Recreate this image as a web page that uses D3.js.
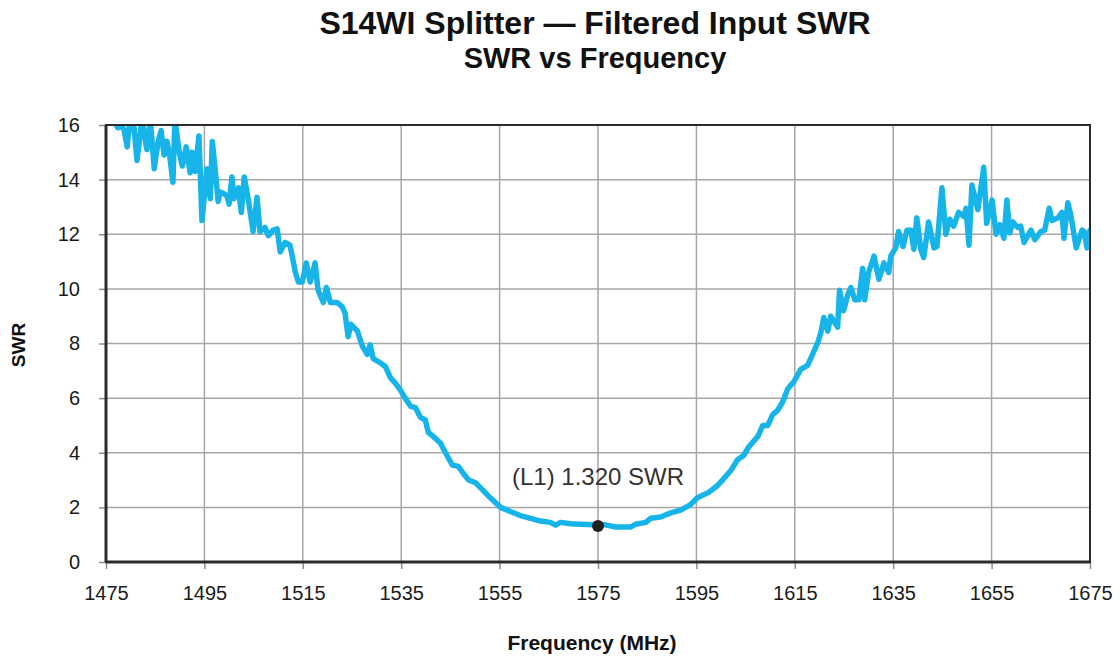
<!DOCTYPE html>
<html>
<head>
<meta charset="utf-8">
<script src="https://cdn.jsdelivr.net/npm/d3@7"></script>
<style>
  body { margin: 0; background: #fff; }
  svg { font-family: "Liberation Sans", Arial, sans-serif; }
</style>
</head>
<body>
<div id="wrapper"></div>
<script>
// frequency (MHz) readings and matching SWR values
const freqMHz = [
  1475.0, 1476.2, 1477.4, 1478.1, 1478.7, 1479.3, 1479.9, 1480.7, 1481.3, 1482.3,
  1483.3, 1484.0, 1484.8, 1485.6, 1486.2, 1486.8, 1487.4, 1488.0, 1488.6, 1489.0,
  1489.9, 1490.5, 1491.3, 1492.1, 1492.5, 1493.1, 1493.9, 1494.5, 1495.1, 1495.5,
  1496.2, 1496.6, 1497.2, 1497.8, 1498.2, 1498.8, 1499.6, 1500.0, 1500.6, 1501.0,
  1501.9, 1502.5, 1503.1, 1503.9, 1504.9, 1505.7, 1506.3, 1507.3, 1508.0, 1509.0,
  1509.8, 1510.4, 1511.4, 1512.4, 1513.5, 1514.1, 1514.9, 1515.7, 1516.5, 1517.5,
  1518.1, 1519.2, 1519.8, 1520.6, 1522.0, 1523.0, 1523.6, 1524.2, 1524.8, 1526.1,
  1527.1, 1528.1, 1528.7, 1529.3, 1530.7, 1531.8, 1532.8, 1533.8, 1534.8, 1535.8,
  1536.9, 1537.9, 1538.9, 1539.9, 1540.5, 1541.5, 1543.0, 1544.0, 1545.4, 1546.6,
  1547.6, 1548.7, 1550.1, 1551.5, 1553.1, 1555.2, 1557.2, 1559.2, 1561.3, 1563.3,
  1565.3, 1566.4, 1567.4, 1569.4, 1571.4, 1574.5, 1576.5, 1578.6, 1581.6, 1582.6,
  1584.7, 1585.7, 1587.7, 1589.8, 1591.8, 1593.8, 1595.2, 1597.5, 1599.3, 1600.3,
  1602.0, 1603.4, 1604.6, 1605.6, 1607.5, 1608.5, 1609.5, 1610.5, 1611.5, 1612.5,
  1613.6, 1614.8, 1616.2, 1617.6, 1618.6, 1619.7, 1620.3, 1620.9, 1621.7, 1622.3,
  1623.7, 1624.1, 1624.9, 1625.8, 1626.4, 1627.2, 1628.0, 1628.8, 1629.2, 1630.0,
  1631.1, 1632.1, 1633.1, 1634.1, 1634.5, 1635.5, 1636.1, 1637.0, 1637.8, 1638.6,
  1639.2, 1639.8, 1640.6, 1641.2, 1642.2, 1643.3, 1643.9, 1644.9, 1645.7, 1646.5,
  1647.3, 1648.3, 1649.4, 1649.8, 1650.4, 1651.0, 1652.2, 1653.4, 1654.0, 1655.1,
  1655.9, 1656.7, 1657.5, 1658.1, 1658.7, 1659.3, 1660.3, 1660.9, 1661.6, 1663.0,
  1663.8, 1665.0, 1665.8, 1666.7, 1667.3, 1668.5, 1669.3, 1669.7, 1670.5, 1671.1,
  1672.2, 1673.4, 1673.8, 1674.4, 1675.0
];
const swr = [
  16.6, 16.3, 15.9, 16.0, 15.8, 15.2, 16.3, 15.9, 14.7, 16.2,
  15.1, 16.2, 14.4, 15.4, 15.8, 14.9, 15.4, 14.8, 13.9, 16.2,
  15.0, 14.5, 15.2, 14.25, 15.0, 14.3, 15.6, 12.5, 13.6, 14.4,
  13.3, 15.4, 14.35, 13.2, 13.55, 13.5, 13.4, 13.1, 14.1, 13.3,
  13.7, 12.8, 14.1, 13.3, 12.1, 13.35, 12.1, 12.25, 11.95, 12.15,
  12.2, 11.35, 11.7, 11.6, 10.6, 10.25, 10.25, 10.95, 10.25, 10.95,
  9.95, 9.5, 10.05, 9.5, 9.5, 9.35, 9.1, 8.25, 8.7, 8.45,
  7.9, 7.6, 7.95, 7.45, 7.3, 7.15, 6.75, 6.55, 6.3, 6.0,
  5.7, 5.65, 5.3, 5.2, 4.75, 4.6, 4.35, 4.0, 3.55, 3.5,
  3.25, 3.0, 2.9, 2.65, 2.35, 2.0, 1.85, 1.7, 1.6, 1.5,
  1.45, 1.35, 1.45, 1.4, 1.38, 1.36, 1.36, 1.28, 1.28, 1.38,
  1.45, 1.6, 1.65, 1.8, 1.9, 2.1, 2.35, 2.55, 2.8, 3.0,
  3.35, 3.75, 3.9, 4.2, 4.6, 5.0, 5.0, 5.4, 5.55, 5.85,
  6.35, 6.6, 7.05, 7.2, 7.6, 8.05, 8.4, 8.95, 8.45, 9.0,
  8.6, 9.95, 9.2, 9.8, 10.05, 9.6, 9.6, 10.75, 9.6, 10.6,
  11.2, 10.35, 10.95, 10.6, 11.2, 11.5, 12.1, 11.55, 12.15, 12.15,
  11.45, 12.6, 11.45, 11.15, 12.45, 11.5, 11.55, 13.7, 12.0, 12.55,
  12.3, 12.8, 12.65, 12.95, 11.6, 13.8, 12.9, 14.45, 12.4, 13.25,
  12.0, 12.35, 11.85, 13.25, 12.05, 12.45, 12.25, 12.3, 11.7, 12.15,
  11.8, 12.1, 12.15, 12.95, 12.5, 12.6, 12.8, 11.85, 13.15, 12.7,
  11.5, 12.15, 12.1, 11.5, 12.15
];

const xTicks = [1475, 1495, 1515, 1535, 1555, 1575, 1595, 1615, 1635, 1655, 1675];
const yTicks = [0, 2, 4, 6, 8, 10, 12, 14, 16];

// marker L1
const markerFreq = 1575;
const markerSwr = 1.32;
const markerLabel = "(L1) 1.320 SWR";

const dimensions = {
    width: 1120,
    height: 662,
    margin: { top: 125, right: 30, bottom: 100, left: 106 }
};
dimensions.bounded_width = dimensions.width - dimensions.margin.left - dimensions.margin.right;
dimensions.bounded_height = dimensions.height - dimensions.margin.top - dimensions.margin.bottom;

const svg = d3.select("#wrapper")
    .append("svg")
    .attr("width", dimensions.width)
    .attr("height", dimensions.height);

// titles
svg.append("text")
    .attr("x", 595).attr("y", 34)
    .attr("text-anchor", "middle")
    .style("font-size", "32px").style("font-weight", "bold")
    .attr("fill", "#111")
    .text("S14WI Splitter \u2014 Filtered Input SWR");
svg.append("text")
    .attr("x", 595).attr("y", 68)
    .attr("text-anchor", "middle")
    .style("font-size", "29px").style("font-weight", "bold")
    .attr("fill", "#111")
    .text("SWR vs Frequency");

const bounds = svg.append("g")
    .attr("transform", `translate(${dimensions.margin.left},${dimensions.margin.top})`);

const x_scale = d3.scaleLinear()
    .domain([1475, 1675])
    .range([0, dimensions.bounded_width]);
const y_scale = d3.scaleLinear()
    .domain([0, 16])
    .range([dimensions.bounded_height, 0]);

// gridlines
bounds.append("g")
    .selectAll("line")
    .data(xTicks)
    .join("line")
    .attr("x1", d => x_scale(d)).attr("x2", d => x_scale(d))
    .attr("y1", 0).attr("y2", dimensions.bounded_height)
    .attr("stroke", "#a6a6a6").attr("stroke-width", 1.5);
bounds.append("g")
    .selectAll("line")
    .data(yTicks)
    .join("line")
    .attr("x1", 0).attr("x2", dimensions.bounded_width)
    .attr("y1", d => y_scale(d)).attr("y2", d => y_scale(d))
    .attr("stroke", "#a6a6a6").attr("stroke-width", 1.5);

// axes
const x_axis = bounds.append("g")
    .attr("transform", `translate(0,${dimensions.bounded_height})`)
    .call(d3.axisBottom(x_scale).tickValues(xTicks).tickFormat(d3.format("d")).tickSize(7).tickPadding(17));
const y_axis = bounds.append("g")
    .call(d3.axisLeft(y_scale).tickValues(yTicks).tickSize(7).tickPadding(19));
[x_axis, y_axis].forEach(a => {
    a.select(".domain").remove();
    a.selectAll(".tick line").attr("stroke", "#8c8c8c").attr("stroke-width", 1.5);
    a.selectAll(".tick text")
        .attr("fill", "#1a1a1a")
        .style("font-size", "20px")
        .style("font-family", "'Liberation Sans', Arial, sans-serif");
});

// clip the trace to the plot frame
bounds.append("clipPath").attr("id", "plot-clip")
    .append("rect")
    .attr("width", dimensions.bounded_width)
    .attr("height", dimensions.bounded_height);

const points = freqMHz.map((f, i) => [f, swr[i]]);
const line_gen = d3.line()
    .x(d => x_scale(d[0]))
    .y(d => y_scale(d[1]));

bounds.append("path")
    .attr("clip-path", "url(#plot-clip)")
    .attr("d", line_gen(points))
    .attr("fill", "none")
    .attr("stroke", "#17b4e9")
    .attr("stroke-width", 5.5)
    .attr("stroke-linejoin", "round")
    .attr("stroke-linecap", "round");

// frame
bounds.append("rect")
    .attr("width", dimensions.bounded_width)
    .attr("height", dimensions.bounded_height)
    .attr("fill", "none")
    .attr("stroke", "#2b2b2b")
    .attr("stroke-width", 2);
bounds.append("line")
    .attr("x1", 0).attr("x2", 0)
    .attr("y1", 0).attr("y2", dimensions.bounded_height)
    .attr("stroke", "#2b2b2b").attr("stroke-width", 3);
bounds.append("line")
    .attr("x1", 0).attr("x2", dimensions.bounded_width)
    .attr("y1", dimensions.bounded_height).attr("y2", dimensions.bounded_height)
    .attr("stroke", "#2b2b2b").attr("stroke-width", 3);

// marker
bounds.append("circle")
    .attr("cx", x_scale(markerFreq))
    .attr("cy", y_scale(markerSwr))
    .attr("r", 6)
    .attr("fill", "#222");
bounds.append("text")
    .attr("x", x_scale(markerFreq))
    .attr("y", y_scale(markerSwr) - 41)
    .attr("text-anchor", "middle")
    .attr("fill", "#333")
    .style("font-size", "24px")
    .text(markerLabel);

// axis labels
svg.append("text")
    .attr("x", dimensions.margin.left + dimensions.bounded_width / 2 - 6)
    .attr("y", 650)
    .attr("text-anchor", "middle")
    .style("font-size", "21px").style("font-weight", "bold")
    .attr("fill", "#111")
    .text("Frequency (MHz)");
svg.append("text")
    .attr("transform", "translate(25,345) rotate(-90)")
    .attr("text-anchor", "middle")
    .style("font-size", "19px").style("font-weight", "bold")
    .attr("fill", "#111")
    .text("SWR");
</script>
</body>
</html>
